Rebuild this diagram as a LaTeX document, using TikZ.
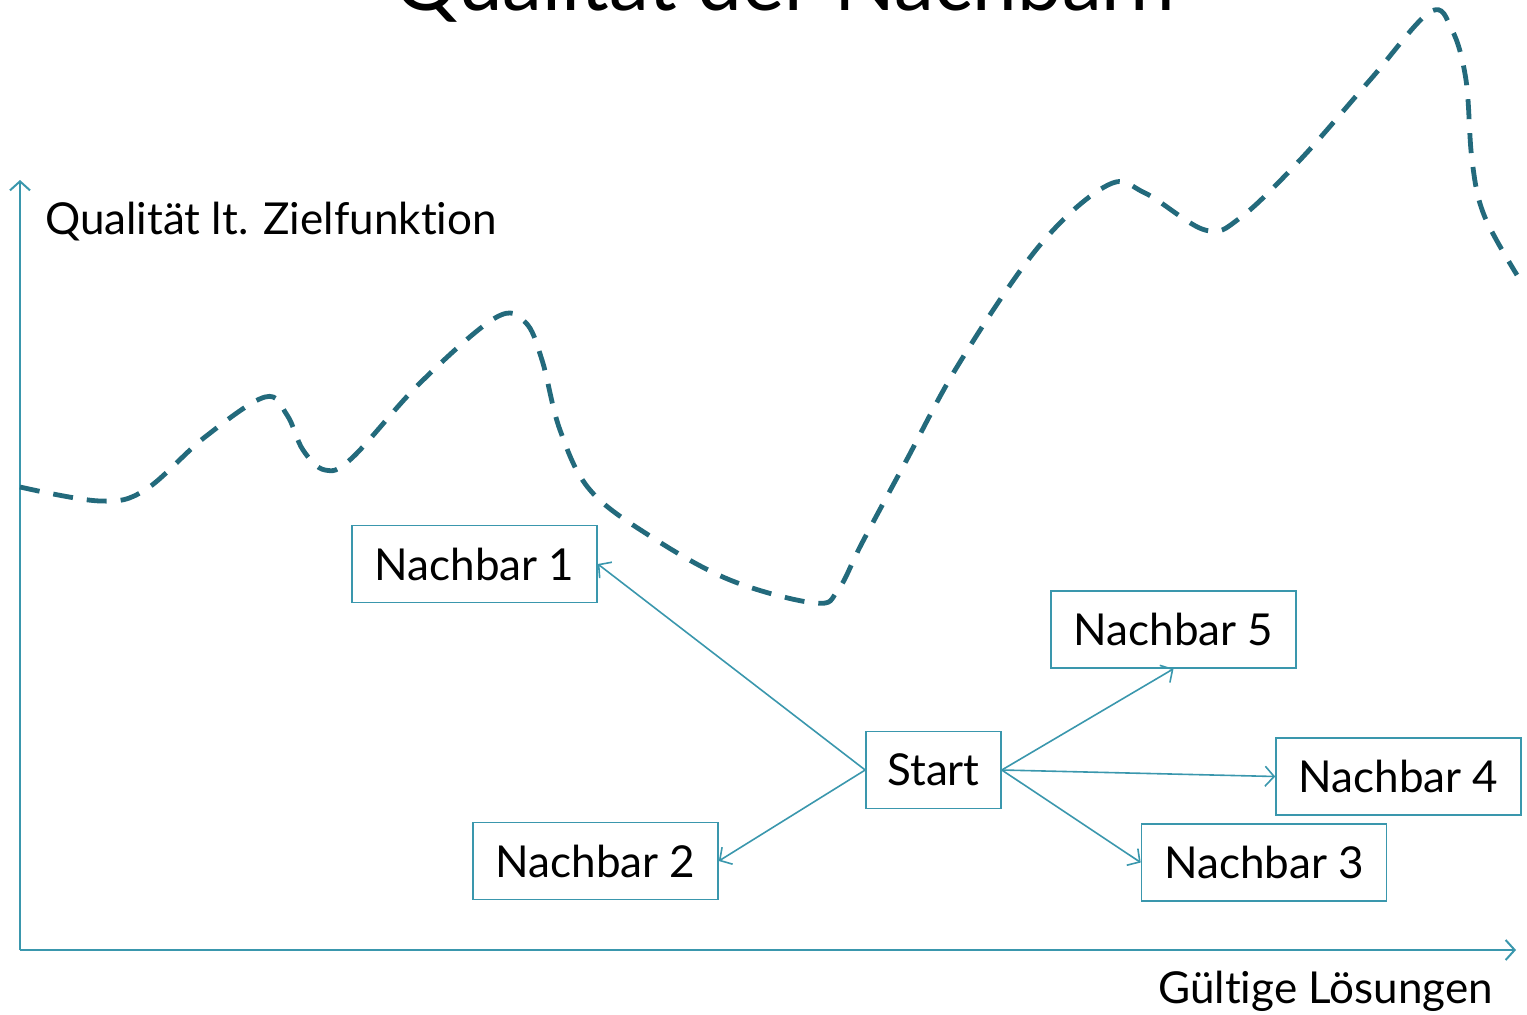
\documentclass[tikz,border=0pt]{standalone}
\usepackage{fontspec}
\setmainfont{Lato}[Ligatures=NoCommon]
\usetikzlibrary{arrows.meta}
\definecolor{linkteal}{HTML}{3A97AD}
\definecolor{curveteal}{HTML}{236A7C}
\begin{document}
\begin{tikzpicture}[x=1pt,y=-1pt,
  box/.style={draw=linkteal,line width=1.6pt,minimum width=245pt,minimum height=77pt,inner sep=0pt,font=\fontsize{44}{50}\selectfont},
  link/.style={draw=linkteal,line width=1.6pt,-{Straight Barb[length=9pt,width=20pt]}},
  axis/.style={draw=linkteal,line width=2pt,-{Straight Barb[length=9pt,width=20pt]}},
  lbl/.style={font=\fontsize{44}{50}\selectfont,inner sep=0pt}]
\useasboundingbox (0,0) rectangle (1527,1015);
\clip (0,0) rectangle (1527,1015);

% title, running off the top edge
\node[anchor=base,font=\fontsize{80}{86}\selectfont,inner sep=0pt] (title) at (785,10) {Qualität der Nachbarn};

% axes
\coordinate (origin) at (20,950);
\coordinate (ytop) at (20,180);
\coordinate (xend) at (1516,950);
\draw[axis] (origin) -- (ytop);
\draw[axis] (origin) -- (xend);
\node[lbl,anchor=base west] (ylabel) at (45,234) {Qualität lt. Zielfunktion};
\node[lbl,anchor=base east] (xlabel) at (1493,1003) {Gültige Lösungen};

% quality landscape
\draw[curveteal,line width=4.8pt,dash pattern=on 20pt off 14pt] plot[smooth,tension=0.6] coordinates {
  (20,487) (100,501) (145,490) (205,437) (265,397) (287,415) (303,450) (325,470) (352,458)
  (420,383) (495,318) (525,322) (542,360) (560,430) (590,490) (650,536) (730,580)
  (815,603) (838,590) (862,543) (905,463) (960,362) (1040,245) (1108,185) (1145,193)
  (1205,230) (1240,218) (1300,160) (1370,80) (1430,12) (1452,30) (1466,80)
  (1472,160) (1484,215) (1517,275)};

% start solution and its neighbours
\node[box,minimum width=135pt] (start) at (933.5,770) {Start};
\node[box] (n1) at (474.5,564) {Nachbar 1};
\node[box] (n2) at (595.5,861) {Nachbar 2};
\node[box] (n3) at (1264,862.5) {Nachbar 3};
\node[box] (n4) at (1398.5,776.5) {Nachbar 4};
\node[box] (n5) at (1173.5,629.5) {Nachbar 5};

\draw[link] (start.west) -- (n1.east);
\draw[link] (start.west) -- (n2.east);
\draw[link] (start.east) -- (n5.south);
\draw[link] (start.east) -- (n4.west);
\draw[link] (start.east) -- (n3.west);
\end{tikzpicture}
\end{document}
